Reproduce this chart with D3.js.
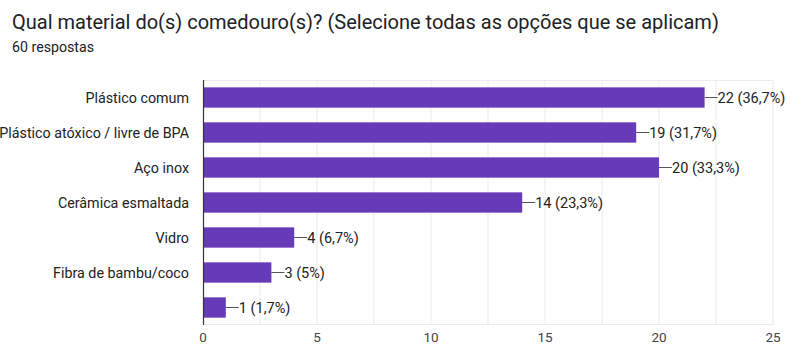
<!DOCTYPE html>
<html><head><meta charset="utf-8">
<script src="https://cdn.jsdelivr.net/npm/d3@7"></script>
<style>body{margin:0;background:#fff;font-family:Roboto,Arial,sans-serif;}</style>
</head><body><svg id="c" width="790" height="345"></svg>
<script>
const categories = ["Plástico comum","Plástico atóxico / livre de BPA","Aço inox","Cerâmica esmaltada","Vidro","Fibra de bambu/coco",""];
const counts = [22,19,20,14,4,3,1];
const percentLabels = ["36,7%","31,7%","33,3%","23,3%","6,7%","5%","1,7%"];
const tickValues = [0,5,10,15,20,25];
const gridValues = [2.5,5,7.5,10,12.5,15,17.5,20,22.5,25];

const svg = d3.select("#c");
svg.append("text").attr("x",12).attr("y",29).attr("font-size",20).attr("fill","#202124")
  .text("Qual material do(s) comedouro(s)? (Selecione todas as opções que se aplicam)");
svg.append("text").attr("x",12).attr("y",52).attr("font-size",14.2).attr("fill","#202124").text("60 respostas");

const x = d3.scaleLinear().domain([0,25]).range([203,773]);
const y = d3.scaleBand().domain(d3.range(categories.length)).range([80,325]).paddingInner(0.42).paddingOuter(0.21);

const g = svg.append("g");
g.selectAll("line.grid").data(gridValues).join("line")
  .attr("x1",d=>x(d)).attr("x2",d=>x(d)).attr("y1",80).attr("y2",325)
  .attr("stroke","#ebebeb").attr("stroke-width",1);
g.append("line").attr("x1",x(0)).attr("x2",x(25)).attr("y1",80.5).attr("y2",80.5).attr("stroke","#ebebeb");
g.append("line").attr("x1",x(0)).attr("x2",x(25)).attr("y1",324.5).attr("y2",324.5).attr("stroke","#ebebeb");

g.selectAll("rect.bar").data(counts).join("rect")
  .attr("x",x(0)).attr("y",(d,i)=>y(i)).attr("width",d=>x(d)-x(0)).attr("height",y.bandwidth())
  .attr("fill","#673ab7");

g.selectAll("line.lead").data(counts).join("line")
  .attr("x1",d=>x(d)).attr("x2",d=>x(d)+13)
  .attr("y1",(d,i)=>y(i)+y.bandwidth()/2).attr("y2",(d,i)=>y(i)+y.bandwidth()/2)
  .attr("stroke","#555").attr("stroke-width",1);
g.selectAll("text.val").data(counts).join("text")
  .attr("x",d=>x(d)+13).attr("y",(d,i)=>y(i)+y.bandwidth()/2).attr("dy","0.35em")
  .attr("font-size",14.5).attr("fill","#222").text((d,i)=>`${d} (${percentLabels[i]})`);

g.selectAll("text.cat").data(categories).join("text")
  .attr("x",189).attr("y",(d,i)=>y(i)+y.bandwidth()/2).attr("dy","0.35em")
  .attr("text-anchor","end").attr("font-size",14.3).attr("fill","#222").text(d=>d);

g.append("line").attr("x1",x(0)+0.5).attr("x2",x(0)+0.5).attr("y1",80).attr("y2",325).attr("stroke","#333").attr("stroke-width",1.2);

g.selectAll("text.tick").data(tickValues).join("text")
  .attr("x",d=>x(d)).attr("y",342).attr("text-anchor","middle").attr("font-size",13.5).attr("fill","#444").text(d=>d);
</script></body></html>
